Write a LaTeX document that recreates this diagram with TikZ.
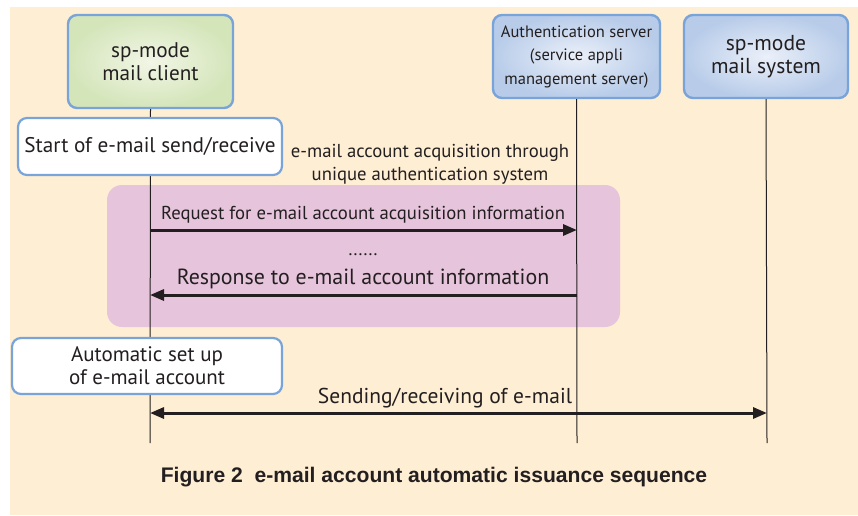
\documentclass[tikz,border=0pt]{standalone}
\usepackage{fontspec}
\setmainfont{PT Sans}
\newfontfamily\capfont{Liberation Sans}
\usetikzlibrary{arrows.meta}
\definecolor{cream}{RGB}{254,238,211}
\definecolor{pinkbg}{RGB}{230,196,220}
\definecolor{bordblue}{RGB}{120,164,218}
\definecolor{txt}{RGB}{35,31,32}
\definecolor{greenin}{RGB}{242,246,230}
\definecolor{greenout}{RGB}{212,229,186}
\definecolor{bluein}{RGB}{235,240,249}
\definecolor{blueout}{RGB}{184,204,233}
\tikzset{
  actor/.style={draw=bordblue, line width=2.4pt, rounded corners=9pt, align=center, text=txt, inner sep=0pt},
  greenbox/.style={actor, shading=radial, inner color=greenin, outer color=greenout},
  bluebox/.style={actor, shading=radial, inner color=bluein, outer color=blueout},
  notebox/.style={draw=bordblue, line width=2.2pt, rounded corners=9pt, fill=white, align=center, text=txt, inner sep=0pt},
  lifeline/.style={draw=txt, line width=1pt},
  tip/.tip={Triangle[length=14pt,width=11pt]},
  msg/.style={draw=txt, line width=3pt, -tip},
  lbl/.style={text=txt, inner sep=0pt, align=center},
}
\begin{document}
\begin{tikzpicture}[x=1pt,y=-1pt]
\useasboundingbox (0,0) rectangle (858,515);
\fill[white] (0,0) rectangle (858,515);
\fill[cream] (10,7) rectangle (858,515);
% pink region
\fill[pinkbg, rounded corners=15pt] (107,185) rectangle (620,327);
% actors
\node[greenbox, minimum width=165pt, minimum height=93pt, font=\fontsize{21.2}{23.5}\selectfont] (client) at (150.5,61.5) {sp-mode\\mail client};
\node[bluebox, minimum width=167pt, minimum height=83pt, font=\fontsize{16.5}{23.5}\selectfont] (auth) at (576.5,56.5) {\raisebox{-2pt}{Authentication server}\\\raisebox{-2pt}{(service appli}\\\raisebox{-2pt}{management server)}};
\node[bluebox, minimum width=164pt, minimum height=83pt, font=\fontsize{21.6}{23.5}\selectfont] (mail) at (766,56.5) {sp-mode\\mail system};
% lifeline ends
\coordinate (cE) at (150,443);
\coordinate (aE) at (577,443);
\coordinate (mE) at (767,443);
\draw[lifeline] (client.south) -- (cE);
\draw[lifeline] (auth.south) -- (aE);
\draw[lifeline] (mail.south) -- (mE);
% notes
\node[notebox, minimum width=264pt, minimum height=57pt, font=\fontsize{21.2}{23}\selectfont] (start) at (150,146.5) {Start of e-mail send/receive};
\node[notebox, minimum width=270pt, minimum height=56pt, font=\fontsize{21}{23}\selectfont] (auto) at (147,366) {Automatic set up\\of e-mail account};
% label
\node[lbl, font=\fontsize{18.7}{23}\selectfont] (acq) at (430,164) {e-mail account acquisition through\\unique authentication system};
% messages
\coordinate (c1) at (150,230); \coordinate (a1) at (577,230);
\coordinate (c2) at (150,295); \coordinate (a2) at (577,295);
\coordinate (c3) at (150,413); \coordinate (m3) at (767,413);
\draw[msg] (c1) -- (a1);
\node[lbl, font=\fontsize{18.7}{20}\selectfont] (req) at (363,215) {Request for e-mail account acquisition information};
\node[lbl, font=\fontsize{18}{20}\selectfont] (dots) at (363,255) {......};
\draw[msg] (a2) -- (c2);
\node[lbl, font=\fontsize{21.9}{22}\selectfont] (resp) at (363,279) {Response to e-mail account information};
\draw[msg, tip-tip] (c3) -- (m3);
\node[lbl, font=\fontsize{21.5}{22}\selectfont] (send) at (445,398) {Sending/receiving of e-mail};
% caption
\node[lbl, font=\capfont\bfseries\fontsize{21.1}{22}\selectfont] (cap) at (434,477) {Figure 2\ \ e-mail account automatic issuance sequence};
\end{tikzpicture}
\end{document}
